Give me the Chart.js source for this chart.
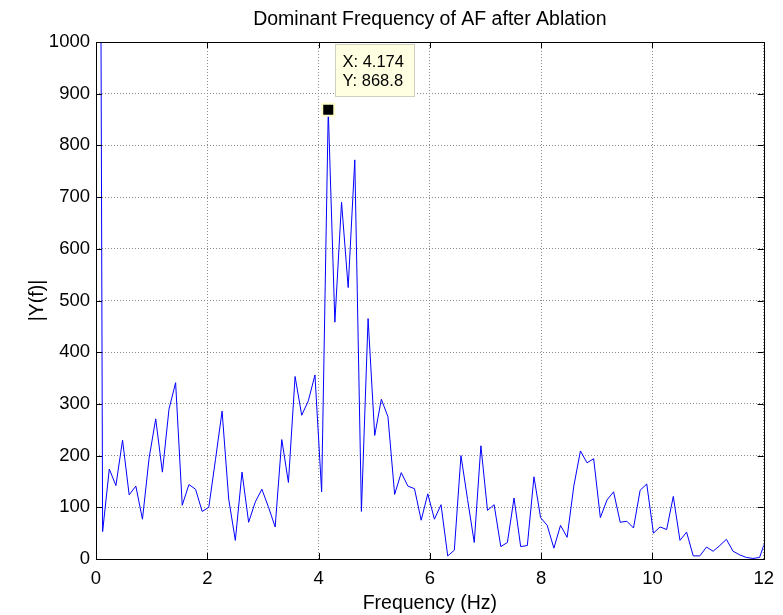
<!DOCTYPE html>
<html>
<head>
<meta charset="utf-8">
<script src="https://cdn.jsdelivr.net/npm/chart.js@4.4.1/dist/chart.umd.min.js"></script>
<style>
  html, body { margin: 0; padding: 0; background: #fff; }
  #wrap { width: 783px; height: 615px; }
</style>
</head>
<body>
<div id="wrap"><canvas id="fftChart" width="783" height="615"></canvas></div>
<script>
// Spectrum samples (bin 0 is the DC spike, off the top)
const freqHz = [
  0, 0.119, 0.239, 0.358, 0.477, 0.596, 0.716, 0.835, 0.954, 1.073,
  1.193, 1.312, 1.431, 1.550, 1.670, 1.789, 1.908, 2.027, 2.147, 2.266,
  2.385, 2.504, 2.624, 2.743, 2.862, 2.981, 3.101, 3.220, 3.339, 3.458,
  3.578, 3.697, 3.816, 3.935, 4.055, 4.174, 4.293, 4.413, 4.532, 4.651,
  4.770, 4.890, 5.009, 5.128, 5.247, 5.367, 5.486, 5.605, 5.724, 5.844,
  5.963, 6.082, 6.201, 6.321, 6.440, 6.559, 6.678, 6.798, 6.917, 7.036,
  7.155, 7.275, 7.394, 7.513, 7.632, 7.752, 7.871, 7.990, 8.109, 8.229,
  8.348, 8.467, 8.587, 8.706, 8.825, 8.944, 9.064, 9.183, 9.302, 9.421,
  9.541, 9.660, 9.779, 9.898, 10.018, 10.137, 10.256, 10.375, 10.495, 10.614,
  10.733, 10.852, 10.972, 11.091, 11.210, 11.329, 11.449, 11.568, 11.687, 11.806,
  11.926, 12.045
];
const magnitude = [
  4000, 53, 174, 142, 230, 124, 141, 77, 195, 271,
  168, 290, 341, 104, 144, 135, 92, 100, 192, 286,
  116, 36, 168, 71, 110, 135, 100, 62, 231, 148,
  353, 278, 306, 356, 130, 868.8, 458, 690, 525, 772,
  92, 465, 239, 309, 275, 125, 167, 141, 136, 75,
  126, 77, 105, 6, 17, 200, 115, 32, 219, 94,
  105, 24, 32, 118, 24, 26, 159, 80, 65, 21,
  65, 42, 141, 209, 186, 194, 80, 114, 130, 71,
  73, 60, 133, 145, 50, 62, 57, 121, 36, 52,
  6, 6, 23, 15, 26, 38, 15, 8, 3, 1,
  3, 40
];
const xTicks = [0, 2, 4, 6, 8, 10, 12];
const yTicks = [0, 100, 200, 300, 400, 500, 600, 700, 800, 900, 1000];
const peakFreq = 4.174;
const peakMag = 868.8;

const FONT = 'Liberation Sans, Arial, Helvetica, sans-serif';

// title, axes box, inward ticks and the data tip, drawn matlab style
const matlabBits = {
  id: 'matlabBits',
  afterDraw(chart) {
    const { ctx, chartArea: a, scales } = chart;
    const xs = scales.x, ys = scales.y;
    ctx.save();

    // title
    ctx.fillStyle = '#000';
    ctx.font = '19.5px ' + FONT;
    ctx.textAlign = 'center';
    ctx.textBaseline = 'middle';
    ctx.fillText('Dominant Frequency of AF after Ablation', (a.left + a.right) / 2, 19.5);

    // box
    ctx.strokeStyle = '#000';
    ctx.lineWidth = 1;
    ctx.strokeRect(Math.round(a.left) + 0.5, Math.round(a.top) + 0.5,
      Math.round(a.right - a.left), Math.round(a.bottom - a.top));

    // inward ticks on all four sides
    const tl = 6;
    ctx.beginPath();
    xTicks.forEach(v => {
      const px = Math.round(xs.getPixelForValue(v)) + 0.5;
      ctx.moveTo(px, a.bottom); ctx.lineTo(px, a.bottom - tl);
      ctx.moveTo(px, a.top); ctx.lineTo(px, a.top + tl);
    });
    yTicks.forEach(v => {
      const py = Math.round(ys.getPixelForValue(v)) + 0.5;
      ctx.moveTo(a.left, py); ctx.lineTo(a.left + tl, py);
      ctx.moveTo(a.right, py); ctx.lineTo(a.right - tl, py);
    });
    ctx.stroke();

    // data tip box
    const px = xs.getPixelForValue(peakFreq);
    const py = ys.getPixelForValue(peakMag);
    const bx = Math.round(px + 7) + 0.5, by = Math.round(py - 66) + 0.5;
    ctx.fillStyle = '#ffffe1';
    ctx.strokeStyle = '#cfcfc0';
    ctx.fillRect(bx, by, 79, 52);
    ctx.strokeRect(bx, by, 79, 52);
    ctx.fillStyle = '#000';
    ctx.font = '16.5px ' + FONT;
    ctx.textAlign = 'left';
    ctx.fillText('X: ' + peakFreq.toFixed(3), bx + 7, py - 47.5);
    ctx.fillText('Y: ' + peakMag.toFixed(1), bx + 7, py - 28);

    ctx.restore();
  }
};

new Chart(document.getElementById('fftChart'), {
  type: 'line',
  data: {
    datasets: [
      {
        label: 'peak',
        data: [{ x: peakFreq, y: peakMag }],
        showLine: false,
        pointStyle: 'rect',
        pointRadius: 8.5,
        pointBackgroundColor: '#000',
        pointBorderColor: '#ffffcc',
        pointBorderWidth: 2,
        order: 0
      },
      {
        label: '|Y(f)|',
        data: freqHz.map((f, i) => ({ x: f, y: magnitude[i] })),
        borderColor: '#0000ff',
        borderWidth: 1,
        pointRadius: 0,
        tension: 0,
        fill: false,
        order: 1
      }
    ]
  },
  options: {
    responsive: false,
    animation: false,
    events: [],
    layout: { padding: { top: 42, right: 17, bottom: 0, left: 0 } },
    plugins: {
      legend: { display: false },
      tooltip: { enabled: false },
      title: { display: false }
    },
    scales: {
      x: {
        type: 'linear',
        min: 0,
        max: 12,
        afterBuildTicks: s => { s.ticks = xTicks.map(v => ({ value: v })); },
        afterFit: s => { s.height = 56; },
        grid: { color: '#8a8a8a', drawTicks: false },
        border: { display: false, dash: [1, 2] },
        ticks: { color: '#000', padding: 9, maxRotation: 0, autoSkip: false,
                 callback: v => String(v),
                 font: { family: FONT, size: 18.5 } },
        title: { display: true, text: 'Frequency (Hz)', color: '#000',
                 padding: { top: 0, bottom: 0 }, font: { family: FONT, size: 19.5 } }
      },
      y: {
        min: 0,
        max: 1000,
        afterBuildTicks: s => { s.ticks = yTicks.map(v => ({ value: v })); },
        afterFit: s => { s.width = 96; },
        grid: { color: '#8a8a8a', drawTicks: false },
        border: { display: false, dash: [1, 2] },
        ticks: { color: '#000', padding: 6, callback: v => String(v),
                 font: { family: FONT, size: 18.5 } },
        title: { display: true, text: '|Y(f)|', color: '#000',
                 padding: { top: 26, bottom: 0 }, font: { family: FONT, size: 19.5 } }
      }
    }
  },
  plugins: [matlabBits]
});
</script>
</body>
</html>
